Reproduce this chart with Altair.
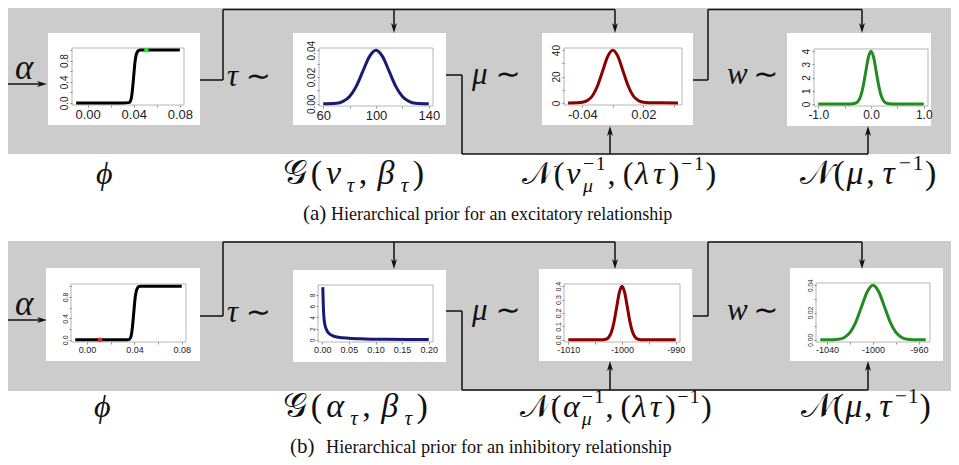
import altair as alt
import pandas as pd

W, H = 943, 449          # chart size (page is 959x465 with an 8px margin)
M = 8                    # page margin: picture coords -> chart coords

# ---------------- curve values ----------------
sig_a_x = [-0.010, 0.030, 0.0355, 0.0370, 0.0380, 0.0390, 0.0400, 0.0410, 0.0420, 0.0430, 0.0440, 0.0460, 0.0500, 0.0800]
sig_a_y = [0.0, 0.0, 0.005, 0.03, 0.10, 0.28, 0.52, 0.76, 0.90, 0.96, 0.99, 1.0, 1.0, 1.0]
dot_a_x = [0.051]
dot_a_y = [1.0]

tau_a_x = [60, 70, 75, 80, 85, 90, 95, 100, 105, 110, 115, 120, 125, 130, 140]
tau_a_y = [0.0, 0.0004, 0.0018, 0.0054, 0.0130, 0.0242, 0.0352, 0.0399, 0.0352, 0.0242, 0.0130, 0.0054, 0.0018, 0.0004, 0.0]

mu_a_x = [-0.054, -0.045, -0.040, -0.035, -0.030, -0.025, -0.020, -0.015, -0.010, -0.005, 0.000, 0.005, 0.010, 0.015, 0.020, 0.025, 0.054]
mu_a_y = [0.0, 0.1, 0.44, 1.75, 5.4, 13.0, 24.2, 35.2, 39.9, 35.2, 24.2, 13.0, 5.4, 1.75, 0.44, 0.1, 0.0]

w_a_x = [-1.0, -0.40, -0.30, -0.25, -0.20, -0.15, -0.10, -0.05, 0.0, 0.05, 0.10, 0.15, 0.20, 0.25, 0.30, 0.40, 1.0]
w_a_y = [0.0, 0.0005, 0.044, 0.175, 0.54, 1.30, 2.42, 3.52, 3.99, 3.52, 2.42, 1.30, 0.54, 0.175, 0.044, 0.0005, 0.0]

sig_b_x = [-0.010, 0.030, 0.0355, 0.0365, 0.0375, 0.0385, 0.0395, 0.0405, 0.0415, 0.0425, 0.0435, 0.0455, 0.0500, 0.0800]
sig_b_y = [0.0, 0.0, 0.005, 0.03, 0.10, 0.28, 0.52, 0.76, 0.90, 0.96, 0.99, 1.0, 1.0, 1.0]
dot_b_x = [0.011]
dot_b_y = [0.0]

tau_b_x = [0.001, 0.002, 0.003, 0.005, 0.008, 0.012, 0.020, 0.030, 0.050, 0.080, 0.120, 0.160, 0.200]
tau_b_y = [9.4, 6.0, 4.2, 2.7, 1.8, 1.2, 0.72, 0.48, 0.29, 0.18, 0.11, 0.07, 0.05]

mu_b_x = [-1010, -1004, -1003, -1002.5, -1002, -1001.5, -1001, -1000.5, -1000, -999.5, -999, -998.5, -998, -997.5, -997, -996, -990]
mu_b_y = [0.0, 0.0001, 0.0044, 0.0175, 0.054, 0.130, 0.242, 0.352, 0.399, 0.352, 0.242, 0.130, 0.054, 0.0175, 0.0044, 0.0001, 0.0]

w_b_x = [-1046, -1040, -1030, -1025, -1020, -1015, -1010, -1005, -1000, -995, -990, -985, -980, -975, -970, -960, -954]
w_b_y = [0.0, 0.00001, 0.00044, 0.00175, 0.0054, 0.0130, 0.0242, 0.0352, 0.0399, 0.0352, 0.0242, 0.0130, 0.0054, 0.00175, 0.00044, 0.00001, 0.0]

# ---------------- tick values and tick labels ----------------
a1_xticks = [0, 0.02, 0.04, 0.06, 0.08];        a1_xlabels = [(0, "0.00"), (0.04, "0.04"), (0.08, "0.08")]
a1_yticks = [0, 0.2, 0.4, 0.6, 0.8, 1.0];       a1_ylabels = [(0, "0.0"), (0.4, "0.4"), (0.8, "0.8")]
a2_xticks = [60, 80, 100, 120, 140];            a2_xlabels = [(60, "60"), (100, "100"), (140, "140")]
a2_yticks = [0, 0.01, 0.02, 0.03, 0.04];        a2_ylabels = [(0, "0.00"), (0.02, "0.02"), (0.04, "0.04")]
a3_xticks = [-0.04, -0.01, 0.02, 0.05];         a3_xlabels = [(-0.04, "-0.04"), (0.02, "0.02")]
a3_yticks = [0, 10, 20, 30, 40];                a3_ylabels = [(0, "0"), (20, "20"), (40, "40")]
a4_xticks = [-1, -0.5, 0, 0.5, 1];              a4_xlabels = [(-1, "-1.0"), (0, "0.0"), (1, "1.0")]
a4_yticks = [0, 1, 2, 3, 4];                    a4_ylabels = [(0, "0"), (1, "1"), (2, "2"), (3, "3"), (4, "4")]
b1_xticks = [0, 0.02, 0.04, 0.06, 0.08];        b1_xlabels = [(0, "0.00"), (0.04, "0.04"), (0.08, "0.08")]
b1_yticks = [0, 0.2, 0.4, 0.6, 0.8, 1.0];       b1_ylabels = [(0, "0.0"), (0.4, "0.4"), (0.8, "0.8")]
b2_xticks = [0, 0.05, 0.1, 0.15, 0.2];          b2_xlabels = [(0, "0.00"), (0.05, "0.05"), (0.1, "0.10"), (0.15, "0.15"), (0.2, "0.20")]
b2_yticks = [0, 2, 4, 6, 8];                    b2_ylabels = [(0, "0"), (2, "2"), (4, "4"), (6, "6"), (8, "8")]
b3_xticks = [-1010, -1005, -1000, -995, -990];  b3_xlabels = [(-1010, "-1010"), (-1000, "-1000"), (-990, "-990")]
b3_yticks = [0, 0.1, 0.2, 0.3, 0.4];            b3_ylabels = [(0, "0.0"), (0.1, "0.1"), (0.2, "0.2"), (0.3, "0.3"), (0.4, "0.4")]
b4_xticks = [-1040, -1020, -1000, -980, -960];  b4_xlabels = [(-1040, "-1040"), (-1000, "-1000"), (-960, "-960")]
b4_yticks = [0, 0.01, 0.02, 0.03, 0.04];        b4_ylabels = [(0, "0.00"), (0.02, "0.02"), (0.04, "0.04")]

# ---------------- texts ----------------
caption_a_tag, caption_a = "(a)", "Hierarchical prior for an excitatory relationship"
caption_b_tag, caption_b = "(b)", "Hierarchical prior for an inhibitory relationship"

BLUE, RED, GREEN, BLACK = "#1a1a70", "#8b0000", "#228b22", "#000000"
GRAY_BG = "#cccccc"
LINE = "#111111"


def label_expr(pairs):
    s = "''"
    for v, lab in reversed(pairs):
        s = f"abs(datum.value - ({v})) < 1e-9 ? '{lab}' : {s}"
    return s


def mini(xs, ys, color, frame, xdom, ydom, xt, xl, yt, yl, fsx, fsy, dot=None, dotcolor=None):
    fx0, fy0, fx1, fy1 = [v - M for v in frame]
    xsc = alt.Scale(domain=xdom, range=[fx0, fx1], nice=False, zero=False)
    ysc = alt.Scale(domain=ydom, range=[fy1, fy0], nice=False, zero=False)
    common = dict(grid=False, domain=False, title=None, zindex=1, tickSize=2,
                  tickColor="#8a8a8a", labelFont="Liberation Sans", labelColor="#222222",
                  labelOverlap=False, labelFlush=False, labelBound=False)
    xax = alt.Axis(orient="bottom", offset=fy1 - H, values=xt, labelExpr=label_expr(xl),
                   labelFontSize=fsx, labelPadding=1, **common)
    yax = alt.Axis(orient="left", offset=-fx0, values=yt, labelExpr=label_expr(yl),
                   labelFontSize=fsy, labelAngle=270, labelAlign="center",
                   labelBaseline="bottom", labelPadding=1, **common)
    df = pd.DataFrame({"x": xs, "y": ys})
    layers = [alt.Chart(df).mark_line(color=color, strokeWidth=3, interpolate="monotone").encode(
        x=alt.X("x:Q", scale=xsc, axis=xax), y=alt.Y("y:Q", scale=ysc, axis=yax))]
    if dot is not None:
        ddf = pd.DataFrame({"x": dot[0], "y": dot[1]})
        layers.append(alt.Chart(ddf).mark_point(filled=True, size=22, color=dotcolor, opacity=1).encode(
            x=alt.X("x:Q", scale=xsc, axis=None), y=alt.Y("y:Q", scale=ysc, axis=None)))
    return layers


# (picture coordinates)  white box, plot frame
minis = [
    dict(box=(48, 33, 200, 125), args=(sig_a_x, sig_a_y, BLACK, (72, 48, 184, 105), [-0.0136, 0.0836], [-0.04, 1.04],
         a1_xticks, a1_xlabels, a1_yticks, a1_ylabels, 13, 10), dot=((dot_a_x, dot_a_y), "#22ee22")),
    dict(box=(293, 33, 446, 125), args=(tau_a_x, tau_a_y, BLUE, (319, 48, 433, 106), [56.8, 143.2], [-0.0016, 0.0416],
         a2_xticks, a2_xlabels, a2_yticks, a2_ylabels, 13, 10)),
    dict(box=(542, 33, 693, 125), args=(mu_a_x, mu_a_y, RED, (564, 48, 682, 105), [-0.058, 0.058], [-1.6, 41.6],
         a3_xticks, a3_xlabels, a3_yticks, a3_ylabels, 13, 10)),
    dict(box=(787, 33, 931, 126), args=(w_a_x, w_a_y, GREEN, (814, 49, 928, 106), [-1.08, 1.08], [-0.16, 4.16],
         a4_xticks, a4_xlabels, a4_yticks, a4_ylabels, 12, 10)),
    dict(box=(46, 268, 200, 361), args=(sig_b_x, sig_b_y, BLACK, (71, 284, 186, 342), [-0.0136, 0.0836], [-0.04, 1.04],
         b1_xticks, b1_xlabels, b1_yticks, b1_ylabels, 9, 7), dot=((dot_b_x, dot_b_y), "#ff2222")),
    dict(box=(293, 270, 446, 362), args=(tau_b_x, tau_b_y, BLUE, (318, 285, 433, 342), [-0.008, 0.208], [-0.376, 9.78],
         b2_xticks, b2_xlabels, b2_yticks, b2_ylabels, 9, 6.5)),
    dict(box=(539, 269, 692, 361), args=(mu_b_x, mu_b_y, RED, (564, 284, 680, 342), [-1010.8, -989.2], [-0.016, 0.416],
         b3_xticks, b3_xlabels, b3_yticks, b3_ylabels, 9, 7)),
    dict(box=(790, 268, 943, 361), args=(w_b_x, w_b_y, GREEN, (816, 283, 930, 342), [-1049.7, -950.3], [-0.0016, 0.0416],
         b4_xticks, b4_xlabels, b4_yticks, b4_ylabels, 9, 6.5)),
]

# ---------------- layout pieces (picture coordinates) ----------------
panels = [(5, 5, 951, 154), (5, 241, 951, 391)]

segs = []
arrows_down, arrows_up, arrows_right = [], [], []
for dy, top, bot, tipd, tipu in [(0, 9.5, 154, 33, 126), (236, 242, 390, 269, 361)]:
    segs += [
        (3, 84 + dy, 42, 84 + dy),
        (200, 80 + dy, 223, 80 + dy), (223, 80 + dy, 223, top), (223, top, 615, top),
        (394, top, 394, tipd - 5), (615, top, 615, tipd - 5),
        (446, 75 + dy, 462, 75 + dy), (462, 75 + dy, 462, bot), (462, bot, 868, bot),
        (610, bot, 610, tipu + 5), (868, bot, 868, tipu + 5),
        (693, 80 + dy, 708, 80 + dy), (708, 80 + dy, 708, top), (708, top, 862, top),
        (862, top, 862, tipd - 5),
    ]
    arrows_down += [(394, tipd - 5), (615, tipd - 5), (862, tipd - 5)]
    arrows_up += [(610, tipu + 5), (868, tipu + 5)]
    arrows_right += [(42, 84 + dy)]

EM = {"𝒢": 0.6, "𝒩": 0.85, "(": 0.333, ")": 0.333, ",": 0.25, " ": 0.16, "ν": 0.45, "τ": 0.42,
      "β": 0.5, "μ": 0.5, "α": 0.52, "λ": 0.48, "−": 0.56, "1": 0.5, "∼": 0.84, "w": 0.67, "ϕ": 0.55}
SUB_DY, SUP_DY = 8, -14


def typeset(parts, x0, x1, yb, big=31):
    """parts: (text, role, cat[, size]); role n/sub/sup/ss; cat it/up/sym."""
    small = round(big * 0.62, 1)
    items, pos = [], 0.0
    for part in parts:
        text, role, cat = part[:3]
        if role == "ss":
            sub, sup = text
            p1 = pos
            for c in sub:
                items.append((p1, SUB_DY, small, c, "it")); p1 += EM.get(c, 0.5) * small
            p2 = pos
            for c in sup:
                items.append((p2, SUP_DY, small, c, "up")); p2 += EM.get(c, 0.5) * small
            pos = max(p1, p2)
            continue
        size = part[3] if len(part) > 3 else (big if role == "n" else small)
        d = 0 if role == "n" else (SUB_DY if role == "sub" else SUP_DY)
        for c in text:
            items.append((pos, d, size, c, cat)); pos += EM.get(c, 0.5) * size
    s = (x1 - x0) / pos if x1 is not None else 1.0
    return [dict(x=x0 + p * s - M, y=yb + d - M, fs=size, t=c, cat=cat) for p, d, size, c, cat in items]


math = []
for dy, nu, sp in [(0, "ν", [(283, 428), (522, 718), (800, 938)]), (233, "α", [(283, 432), (520, 713), (801, 932)])]:
    yb = 184 + dy
    math += typeset([("ϕ", "n", "it")], 96 if dy == 0 else 94, None, yb, big=32)
    math += typeset([("𝒢", "n", "up"), ("(", "n", "up"), (nu, "n", "it"), ("τ", "sub", "it"), (",", "n", "up"),
                     (" ", "n", "up"), ("β", "n", "it"), ("τ", "sub", "it"), (")", "n", "up")],
                    sp[0][0], sp[0][1], yb, big=34)
    math += typeset([("𝒩", "n", "up"), ("(", "n", "up"), (nu, "n", "it"), (("μ", "−1"), "ss", "it"), (",", "n", "up"),
                     (" ", "n", "up"), ("(", "n", "up"), ("λ", "n", "it"), ("τ", "n", "it"), (")", "n", "up"),
                     ("−1", "sup", "up"), (")", "n", "up")],
                    sp[1][0], sp[1][1], yb, big=32)
    math += typeset([("𝒩", "n", "up"), ("(", "n", "up"), ("μ", "n", "it"), (",", "n", "up"), (" ", "n", "up"),
                     ("τ", "n", "it"), ("−1", "sup", "up"), (")", "n", "up")],
                    sp[2][0], sp[2][1], yb, big=34)
for dy in [0, 236]:
    math += typeset([("α", "n", "it")], 15, None, 79 + dy, big=35)
    math += typeset([("τ", "n", "it"), ("∼", "n", "sym", 30)], 227, 282, 86 + dy, big=31)
    math += typeset([("μ", "n", "it"), ("∼", "n", "sym", 30)], 472, 534, 84 + dy, big=31)
    math += typeset([("w", "n", "it"), ("∼", "n", "sym", 30)], 727, 785, 84 + dy, big=31)

captions = [
    dict(x=303 - M, y=220 - M, t=caption_a_tag, fs=21), dict(x=331 - M, y=220 - M, t=caption_a, fs=18),
    dict(x=290 - M, y=453 - M, t=caption_b_tag, fs=21), dict(x=326 - M, y=453 - M, t=caption_b, fs=18.3),
]

# ---------------- charts ----------------
def px(field):
    return alt.X(field, type="quantitative", scale=None, axis=None)


def py(field):
    return alt.Y(field, type="quantitative", scale=None, axis=None)


def rect_df(rs):
    return pd.DataFrame([dict(x=a - M, y=b - M, x2=c - M, y2=d - M) for a, b, c, d in rs])


layers = []
layers.append(alt.Chart(rect_df(panels)).mark_rect(color=GRAY_BG).encode(
    x=px("x"), y=py("y"), x2="x2:Q", y2="y2:Q"))
layers.append(alt.Chart(rect_df([m["box"] for m in minis])).mark_rect(color="white").encode(
    x=px("x"), y=py("y"), x2="x2:Q", y2="y2:Q"))
layers.append(alt.Chart(rect_df([m["args"][3] for m in minis])).mark_rect(
    fill="white", fillOpacity=0, stroke="#b5b5b5", strokeWidth=1).encode(
    x=px("x"), y=py("y"), x2="x2:Q", y2="y2:Q"))
layers.append(alt.Chart(rect_df(segs)).mark_rule(color=LINE, strokeWidth=1.5).encode(
    x=px("x"), y=py("y"), x2="x2:Q", y2="y2:Q"))

for pts, shape in [(arrows_down, "M0,1L-0.6,-1L0,-0.45L0.6,-1Z"),
                   (arrows_up, "M0,-1L-0.6,1L0,0.45L0.6,1Z"),
                   (arrows_right, "M1,0L-1,-0.6L-0.45,0L-1,0.6Z")]:
    df = pd.DataFrame([dict(x=a - M, y=b - M) for a, b in pts])
    layers.append(alt.Chart(df).mark_point(shape=shape, filled=True, size=100, color=LINE, opacity=1).encode(
        x=px("x"), y=py("y")))

for m in minis:
    a = m["args"]
    dot = m.get("dot")
    layers += mini(*a, dot=dot[0] if dot else None, dotcolor=dot[1] if dot else None)

mdf = pd.DataFrame(math)
fonts = {"it": ("Liberation Serif, DejaVu Serif, serif", "italic"),
         "up": ("Liberation Serif, DejaVu Serif, serif", "normal"),
         "sym": ("DejaVu Sans, DejaVu Serif, sans-serif", "normal")}
for cat, (font, style) in fonts.items():
    sub = mdf[mdf["cat"] == cat].drop(columns=["cat"])
    layers.append(alt.Chart(sub).mark_text(
        align="left", baseline="alphabetic", font=font, fontStyle=style, color="#111111").encode(
        x=px("x"), y=py("y"), text="t:N", size=alt.Size("fs:Q", scale=None, legend=None)))

layers.append(alt.Chart(pd.DataFrame(captions)).mark_text(
    align="left", baseline="alphabetic", font="Liberation Serif, serif", color="#111111").encode(
    x=px("x"), y=py("y"), text="t:N", size=alt.Size("fs:Q", scale=None, legend=None)))

chart = alt.layer(*layers).resolve_scale(x="independent", y="independent").properties(
    width=W, height=H, autosize=alt.AutoSizeParams(type="none"), padding=0, background="white"
).configure_view(strokeWidth=0)

chart.save("out.html", embed_options={"renderer": "svg", "actions": False})
